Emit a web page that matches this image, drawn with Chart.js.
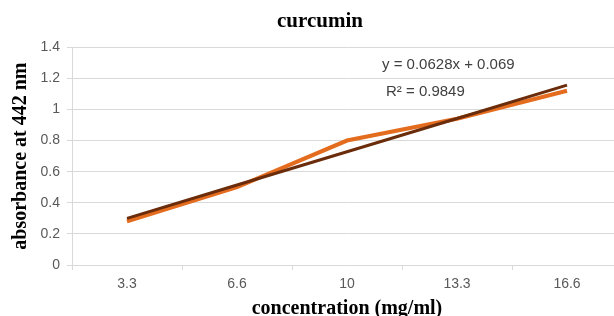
<!DOCTYPE html>
<html>
<head>
<meta charset="utf-8">
<script src="https://cdn.jsdelivr.net/npm/chart.js@4/dist/chart.umd.min.js"></script>
<style>
    html, body { margin: 0; padding: 0; background: #fff; overflow: hidden; }
    #wrap { width: 640px; height: 322px; }
</style>
</head>
<body>
<div id="wrap"><canvas id="myChart" width="640" height="322"></canvas></div>
<script>
const concentrations = ['3.3', '6.6', '10', '13.3', '16.6'];
const absorbance = [0.28, 0.50, 0.80, 0.94, 1.12];
const trendline = [0.30, 0.514, 0.728, 0.942, 1.156];
const equationLines = ['y = 0.0628x + 0.069', 'R\u00b2 = 0.9849'];

// texto de la ecuacion de la linea de tendencia
const equationLabel = {
    id: 'equationLabel',
    afterLayout(chart){
        // el titulo se centra sobre todo el lienzo, no solo hasta el padding
        chart.titleBlock.right += 18;
    },
    afterDatasetsDraw(chart){
        const ctx = chart.ctx;
        const area = chart.chartArea;
        ctx.save();
        ctx.font = '15px "Liberation Sans", Arial, sans-serif';
        ctx.fillStyle = '#404040';
        ctx.textBaseline = 'middle';
        ctx.fillText(equationLines[0], area.left + 310, area.top + 18);
        ctx.fillText(equationLines[1], area.left + 314, area.top + 45);
        ctx.restore();
    }
};

const serifBold = { family: '"Liberation Serif", "Times New Roman", serif', weight: 'bold', size: 20 };
const tickFont = { family: '"Liberation Sans", Arial, sans-serif', size: 14 };

new Chart(document.getElementById('myChart').getContext('2d'), {
    type: 'line',
    data: {
        labels: concentrations,
        datasets: [{
            label: 'Linear trend',
            data: trendline,
            borderColor: '#6A2C0B',
            borderWidth: 3,
            pointRadius: 0,
            tension: 0,
        }, {
            label: 'curcumin',
            data: absorbance,
            borderColor: '#E46C1E',
            borderWidth: 4,
            pointRadius: 0,
            tension: 0,
        }],
    },
    options: {
        responsive: false,
        animation: false,
        layout: { padding: { left: 0, right: 18, top: 0, bottom: 0 } },
        plugins: {
            legend: { display: false },
            tooltip: { enabled: false },
            title: {
                display: true,
                text: 'curcumin',
                color: '#000',
                font: { ...serifBold, size: 21 },
                padding: { top: 9, bottom: 13 },
            },
        },
        scales: {
            x: {
                offset: true,
                afterFit: scale => { scale.height = 57; },
                grid: { offset: true, drawOnChartArea: false, color: '#d9d9d9', tickLength: 5 },
                border: { color: '#d9d9d9' },
                ticks: { color: '#595959', font: tickFont, padding: 6, maxRotation: 0 },
                title: {
                    display: true,
                    text: 'concentration (mg/ml)',
                    color: '#000',
                    font: serifBold,
                    padding: { top: 0, bottom: 1 },
                },
            },
            y: {
                min: 0,
                max: 1.4,
                afterFit: scale => { scale.width = 72; },
                ticks: {
                    stepSize: 0.2,
                    color: '#595959',
                    font: tickFont,
                    padding: 7,
                    callback: v => +v.toFixed(1),
                },
                grid: { color: '#d9d9d9', tickLength: 5 },
                border: { color: '#d9d9d9' },
                title: {
                    display: true,
                    text: 'absorbance at 442 nm',
                    color: '#000',
                    font: serifBold,
                    padding: { top: 9, bottom: 0 },
                },
            },
        },
    },
    plugins: [equationLabel],
});
</script>
</body>
</html>
